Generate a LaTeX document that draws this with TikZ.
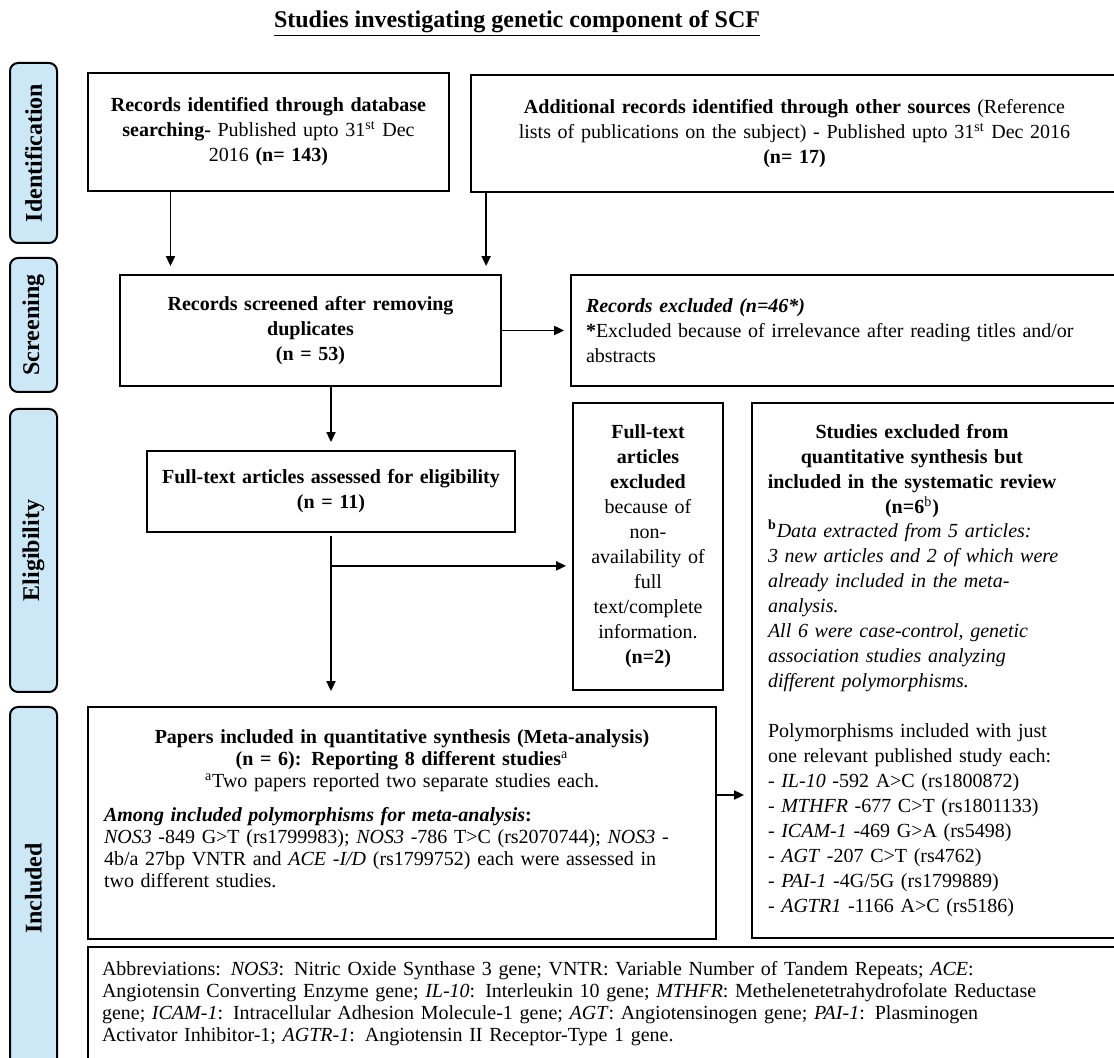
\documentclass[tikz,border=0pt]{standalone}
\usepackage{fontspec}
\setmainfont{Liberation Serif}
\usetikzlibrary{arrows.meta,positioning}
\definecolor{stageblue}{RGB}{204,232,247}
\tikzset{stage/.style={draw,line width=1pt,rounded corners=4pt,fill=stageblue,rotate=90,minimum height=23.5pt,inner sep=0pt,font=\fontsize{12}{14}\selectfont\bfseries},bloc/.style={draw,line width=0.9pt,align=center,inner sep=0pt,font=\fontsize{10}{12.5}\selectfont},tight/.style={font=\fontsize{10}{11}\selectfont},flux/.style={-{Triangle[length=5pt,width=4.5pt]},line width=0.9pt}}

\begin{document}
\begin{tikzpicture}[x=0.5pt,y=-0.5pt]
\useasboundingbox (0,0) rectangle (1114,1058);
\node[font=\fontsize{12}{14}\selectfont\bfseries] (title) at (517,24) {\underline{Studies investigating genetic component of SCF}};
\node[stage,minimum width=90pt] (ident) at (33.5,153) {Identification};
\node[stage,minimum width=67pt] (screen) at (33.5,325) {Screening};
\node[stage,minimum width=141.5pt] (elig) at (33.5,550.5) {Eligibility};
\node[stage,minimum width=181.5pt] (incl) at (33.5,888.5) {Included};
\node[bloc,text width=180.5pt,minimum height=59pt] (db) at (268.5,132) {\textbf{Records identified through database}\\\textbf{searching-} Published upto 31\textsuperscript{st} Dec\\2016 \textbf{(n= 143)}};
\node[bloc,text width=323.5pt,minimum height=58.5pt] (other) at (794.5,133.5) {\textbf{Additional records identified through other sources} (Reference\\lists of publications on the subject) - Published upto 31\textsuperscript{st} Dec 2016\\\textbf{(n= 17)}};
\node[bloc,text width=190.5pt,minimum height=55.5pt] (screened) at (310.5,330.5) {\textbf{Records screened after removing}\\\textbf{duplicates}\\\textbf{(n = 53)}};
\node[bloc,align=left,inner xsep=7.5pt,text width=259.5pt,minimum height=55.5pt] (excluded) at (845.5,330.5) {\textbf{\textit{Records excluded (n=46*)}}\\\textbf{*}Excluded because of irrelevance after reading titles and/or\\abstracts};
\node[bloc,text width=184pt,minimum height=40.5pt] (assessed) at (331,491.5) {\textbf{Full-text articles assessed for eligibility}\\\textbf{(n = 11)}};
\node[bloc,text width=75pt,minimum height=143.5pt] (ftexcl) at (648,546.5) {\textbf{Full-text}\\\textbf{articles}\\\textbf{excluded}\\because of\\non-\\availability of\\full\\text/complete\\information.\\\textbf{(n=2)}};
\node[bloc,align=left,inner xsep=8pt,text width=168pt,minimum height=267.5pt] (studies) at (936,670.5) {\hspace*{-8pt}\begin{minipage}{160pt}\centering\bfseries Studies excluded from\\quantitative synthesis but\\included in the systematic review\\(n=6\textsuperscript{\mdseries b})\end{minipage}\\\textsuperscript{\textbf{b}}\textit{Data extracted from 5 articles:}\\\textit{3 new articles and 2 of which were}\\\textit{already included in the meta-}\\\textit{analysis.}\\\textit{All 6 were case-control, genetic}\\\textit{association studies analyzing}\\\textit{different polymorphisms.}\\[12.5pt]Polymorphisms included with just\\one relevant published study each:\\- \textit{IL-10} -592 A>C (rs1800872)\\- \textit{MTHFR} -677 C>T (rs1801133)\\- \textit{ICAM-1} -469 G>A (rs5498)\\- \textit{AGT} -207 C>T (rs4762)\\- \textit{PAI-1} -4G/5G (rs1799889)\\- \textit{AGTR1} -1166 A>C (rs5186)};
\node[bloc,tight,align=left,inner xsep=8pt,text width=298pt,minimum height=116pt] (papers) at (402,823) {{\centering\textbf{Papers included in quantitative synthesis (Meta-analysis)}\\\textbf{(n = 6): Reporting 8 different studies}\textsuperscript{a}\\\textsuperscript{a}Two papers reported two separate studies each.\par}\vspace{6pt}\textbf{\textit{Among included polymorphisms for meta-analysis}:}\\\textit{NOS3} -849 G>T (rs1799983); \textit{NOS3} -786 T>C (rs2070744); \textit{NOS3} -\\4b/a 27bp VNTR and \textit{ACE -I/D} (rs1799752) each were assessed in\\two different studies.\par\nointerlineskip\vbox to 14pt{}};
\node[bloc,tight,align=left,inner xsep=7pt,text width=502pt,minimum height=59.5pt] (abbrev) at (604,1006.5) {Abbreviations: \textit{NOS3}: Nitric Oxide Synthase 3 gene; VNTR: Variable Number of Tandem Repeats; \textit{ACE}:\\Angiotensin Converting Enzyme gene; \textit{IL-10}: Interleukin 10 gene; \textit{MTHFR}: Methelenetetrahydrofolate Reductase\\gene; \textit{ICAM-1}: Intracellular Adhesion Molecule-1 gene; \textit{AGT}: Angiotensinogen gene; \textit{PAI-1}: Plasminogen\\Activator Inhibitor-1; \textit{AGTR-1}: Angiotensin II Receptor-Type 1 gene.\par\nointerlineskip\vbox to 3pt{}};
\path (assessed.south) ++(0,33) coordinate (branch);
\draw[flux,shorten >=4pt] ([xshift=-49pt]db.south) -- ([xshift=-49pt]db.south |- screened.north);
\draw[flux,shorten >=4pt] ([xshift=8pt]other.south west) -- ([xshift=8pt]other.south west |- screened.north);
\draw[flux,shorten >=3pt] (screened.east) -- (excluded.west);
\draw[flux,shorten >=4pt] (assessed.north |- screened.south) -- (assessed.north);
\draw[flux,shorten <=1.5pt,shorten >=7.5pt] (assessed.south) -- (assessed.south |- papers.north);
\draw[flux,shorten >=3pt] (branch) -- (branch -| ftexcl.west);
\draw[flux,shorten >=3.5pt] ([yshift=14pt]papers.east) -- ([yshift=14pt]papers.east -| studies.west);
\end{tikzpicture}
\end{document}
